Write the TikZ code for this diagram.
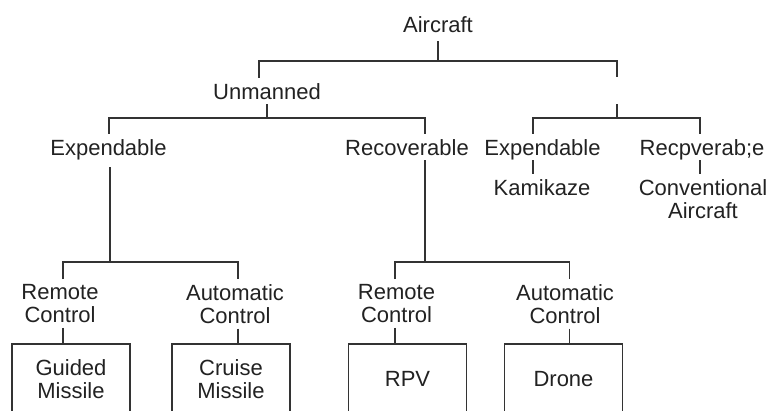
\documentclass[tikz,border=0pt]{standalone}
\usepackage{fontspec}
\setmainfont{Liberation Sans}
\usetikzlibrary{calc}
\definecolor{ln}{HTML}{333333}
\definecolor{tx}{HTML}{222222}
\begin{document}
\begin{tikzpicture}[x=1pt,y=-1pt,
  lbl/.style={font=\fontsize{22}{23}\selectfont, text=tx, inner xsep=0pt, inner ysep=5pt, text height=16pt, text depth=0pt, anchor=base},
  lbl2/.style={font=\fontsize{22}{23}\selectfont, text=tx, inner xsep=0pt, inner ysep=5pt, align=center, anchor=north},
  box/.style={draw=ln, line width=1.8pt, minimum width=118pt, minimum height=70pt, inner sep=0pt, anchor=north, font=\fontsize{22}{23}\selectfont, text=tx, align=center},
  conn/.style={draw=ln, line width=1.8pt}]
\useasboundingbox (0,0) rectangle (771,410);
\clip (0,0) rectangle (771,410);
\fill[white] (0,0) rectangle (771,410);

% labels
\node[lbl] (air) at (438,32) {Aircraft};
\node[lbl] (unm) at (267,99) {Unmanned};
\node[lbl] (exp1) at (108.5,155) {Expendable};
\node[lbl] (rec1) at (407,155) {Recoverable};
\node[lbl] (exp2) at (542.5,155) {Expendable};
\node[lbl] (rec2) at (702,155) {Recpverab;e};
\node[lbl] (kam) at (542,195) {Kamikaze};
\node[lbl2] (conv) at (703,174) {Conventional\\Aircraft};
\node[lbl2] (rc1) at (60,279) {Remote\\Control};
\node[lbl2] (ac1) at (235,279) {Automatic\\Control};
\node[lbl2] (rc2) at (396.5,279) {Remote\\Control};
\node[lbl2] (ac2) at (565,279) {Automatic\\Control};

% boxes
\node[box] (b1) at (71,343) {Guided\\Missile};
\node[box] (b2) at (231,343) {Cruise\\Missile};
\node[box] (b3) at (407.5,343) {RPV};
\node[box] (b4) at (563.5,343) {Drone};

% junctions
\coordinate (j0) at (438,61);
\coordinate (mantop) at (617,77);
\coordinate (manbot) at (617,104);
\coordinate (j1) at (267,118);
\coordinate (j1r) at (617,118);
\coordinate (j2) at (110,262);
\coordinate (j3) at (425,262);

% connectors
\draw[conn] ([yshift=-4pt]air.south) -- (j0);
\draw[conn] ([xshift=-8pt]unm.north) |- (j0) -| (mantop);
\draw[conn] (manbot) -- (j1r);
\draw[conn] ([xshift=-9.5pt]exp2.north) |- (j1r) -| ([xshift=-2pt]rec2.north);
\draw[conn] (unm.south) -- (j1);
\draw[conn] ([xshift=0.5pt]exp1.north) |- (j1) -| ([xshift=18pt]rec1.north);
\draw[conn] ([xshift=-9.5pt]exp2.south) -- ([xshift=-9.5pt]exp2.south |- kam.north);
\draw[conn] ([xshift=-2pt]rec2.south) -- ([xshift=-2pt]rec2.south |- conv.north);
\draw[conn] ([xshift=1.5pt,yshift=-7pt]exp1.south) -- (j2);
\draw[conn] ([xshift=3pt]rc1.north) |- (j2) -| ([xshift=3pt]ac1.north);
\draw[conn] ([xshift=18pt]rec1.south) -- (j3);
\draw[conn] ([xshift=-1.5pt]rc2.north) |- (j3) -| ([xshift=4.5pt]ac2.north);
\draw[conn] ([xshift=3pt]rc1.south) -- ([xshift=3pt]rc1.south |- b1.north);
\draw[conn] ([xshift=3pt]ac1.south) -- ([xshift=3pt]ac1.south |- b2.north);
\draw[conn] ([xshift=-1.5pt]rc2.south) -- ([xshift=-1.5pt]rc2.south |- b3.north);
\draw[conn] ([xshift=4.5pt]ac2.south) -- ([xshift=4.5pt]ac2.south |- b4.north);
\end{tikzpicture}
\end{document}
